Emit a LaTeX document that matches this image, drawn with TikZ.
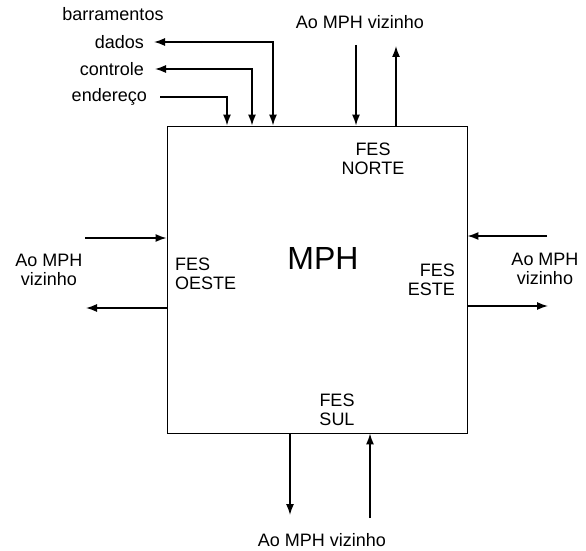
\documentclass[tikz,border=0pt]{standalone}
\usepackage{fontspec}
\setmainfont{Liberation Sans}
\usetikzlibrary{arrows.meta}
\begin{document}
\begin{tikzpicture}[x=1pt,y=-1pt,
  lbl/.style={font=\fontsize{18}{19}\selectfont, inner sep=0pt, align=center},
  big/.style={font=\fontsize{32}{32}\selectfont, inner sep=0pt},
  arr/.style={line width=1.4pt, line join=miter, -{Latex[length=11pt,width=8pt]}},
  barr/.style={line width=1.4pt, line join=miter, {Latex[length=11pt,width=8pt]}-{Latex[length=11pt,width=8pt]}},
  ]
\useasboundingbox (0,0) rectangle (586,551);
% main box
\node[draw, line width=0.9pt, minimum width=300pt, minimum height=307pt, inner sep=0pt] (box) at (317,279.5) {};
\node[big] (mph) at (323,258) {MPH};
% FES labels
\node[lbl] (norte) at (373,159) {FES\\NORTE};
\node[lbl, align=left, anchor=west] (oeste) at (175,274) {FES\\OESTE};
\node[lbl, align=right, anchor=east] (este) at (455,280) {FES\\ESTE};
\node[lbl] (sul) at (337,410) {FES\\SUL};
% buses
\node[lbl] (barr) at (113,14) {barramentos};
\node[lbl, anchor=east] (dados) at (144,42) {dados};
\node[lbl, anchor=east] (controle) at (144,69) {controle};
\node[lbl, anchor=east] (endereco) at (147,97) {endereço};
\coordinate (dc) at (273,42);
\coordinate (cc) at (252,69);
\coordinate (ec) at (227,97);
\draw[barr] ([xshift=10pt]dados.east) -- (dc) -- (dc |- box.north);
\draw[barr] ([xshift=11pt]controle.east) -- (cc) -- (cc |- box.north);
\draw[arr] ([xshift=13pt]endereco.east) -- (ec) -- (ec |- box.north);
% north
\node[lbl] (nlbl) at (360,22) {Ao MPH vizinho};
\coordinate (n1) at (356,45);
\coordinate (n2) at (396,46);
\draw[arr] (n1) -- (n1 |- box.north);
\draw[arr] (n2 |- box.north) -- (n2);
% west
\node[lbl] (wlbl) at (49,270) {Ao MPH\\vizinho};
\coordinate (w1) at (85,238);
\coordinate (w2) at (86,308);
\draw[arr] (w1) -- (w1 -| box.west);
\draw[arr] (w2 -| box.west) -- (w2);
% east
\node[lbl] (elbl) at (545,269) {Ao MPH\\vizinho};
\coordinate (e1) at (547,236);
\coordinate (e2) at (548,306);
\draw[arr] (e1) -- (e1 -| box.east);
\draw[arr] (e2 -| box.east) -- (e2);
% south
\node[lbl] (slbl) at (322,540) {Ao MPH vizinho};
\coordinate (s1) at (290,515);
\coordinate (s2) at (370,518);
\draw[arr] (s1 |- box.south) -- (s1);
\draw[arr] (s2) -- (s2 |- box.south);
\end{tikzpicture}
\end{document}
